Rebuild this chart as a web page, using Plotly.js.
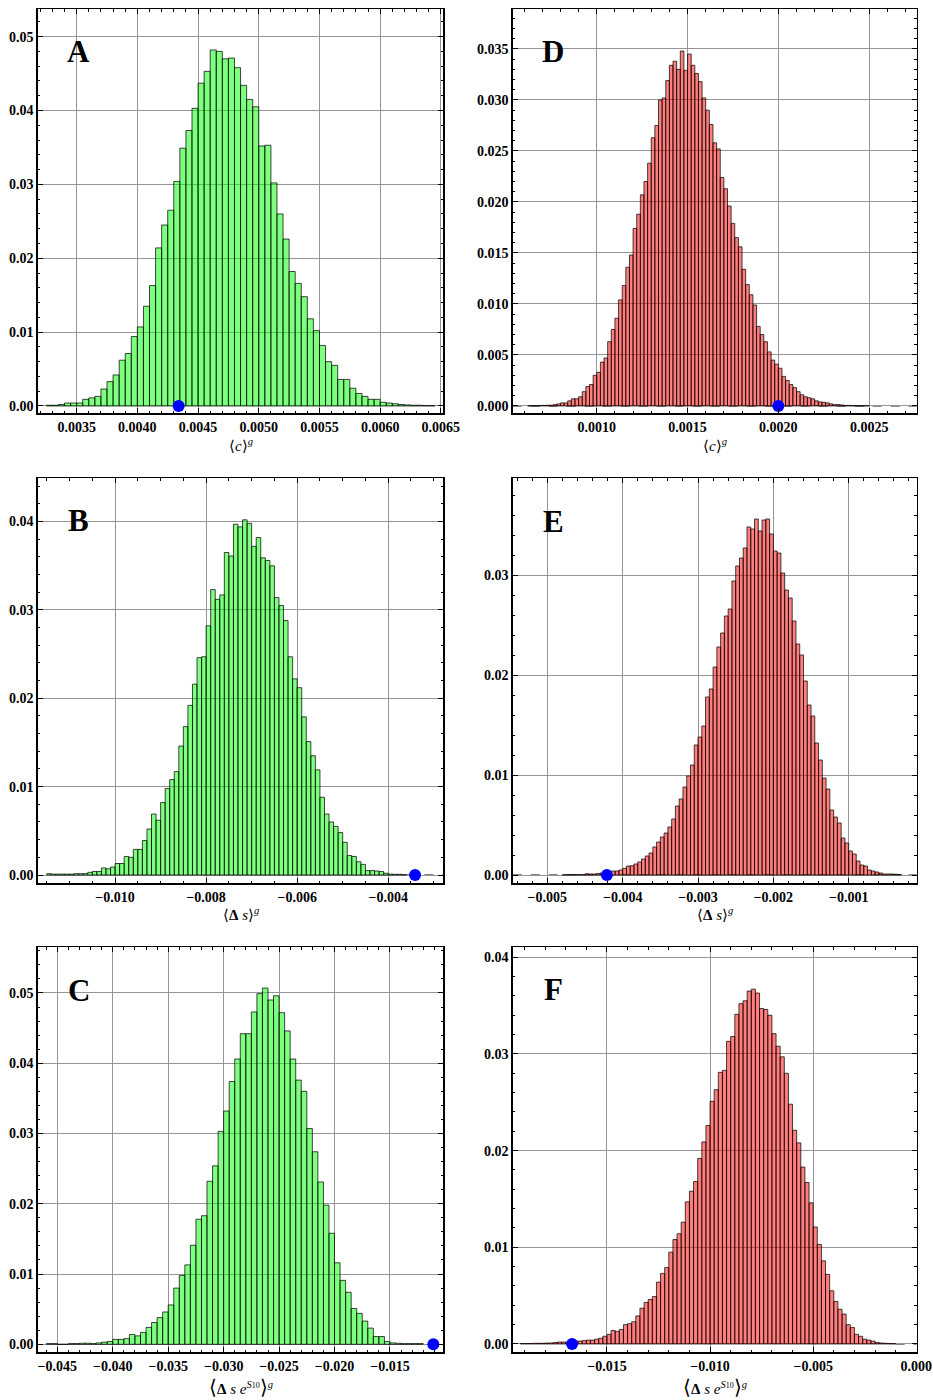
<!DOCTYPE html>
<html>
<head>
<meta charset="utf-8">
<script src="https://cdn.plot.ly/plotly-3.0.1.min.js"></script>
<style>
  html, body { margin: 0; padding: 0; background: #ffffff; }
  #chart { width: 933px; height: 1400px; }
</style>
</head>
<body>
<div id="chart"></div>
<script>
// Panel A: <c>^g, green
const binStartA = 0.00325, binWidthA = 0.00005;
const heightsA = [0.0001,0.0001,0.0002,0.0004,0.0004,0.0004,0.0009,0.0011,0.0013,0.0023,
  0.0033,0.0042,0.0062,0.0071,0.0094,0.0107,0.0135,0.0163,0.0214,0.0245,
  0.0265,0.0304,0.0349,0.0373,0.0403,0.0437,0.0453,0.0482,0.0480,0.0470,
  0.0471,0.0458,0.0434,0.0415,0.0405,0.0352,0.0353,0.0302,0.0260,0.0226,
  0.0182,0.0166,0.0148,0.0118,0.0102,0.0082,0.0060,0.0055,0.0036,0.0036,
  0.0024,0.0017,0.0013,0.0009,0.0009,0.0005,0.0004,0.0003,0.0002,0.00015,
  0.0001,0.0001,0.00005,0.00005];
const markA = 0.00434;

// Panel B: <Δs>^g, green
const binStartB = -0.0115, binWidthB = 0.0001;
const heightsB = [0.00015,0.0001,0.0001,0.0001,0.0001,0.0001,0.00015,0.00015,0.00015,0.0003,
  0.0004,0.0004,0.0008,0.0007,0.0009,0.0013,0.0013,0.0021,0.0020,0.0029,
  0.0029,0.0039,0.0052,0.0069,0.0062,0.0082,0.0098,0.0108,0.0117,0.0146,
  0.0168,0.0192,0.0216,0.0246,0.0247,0.0282,0.0323,0.0312,0.0317,0.0365,
  0.0361,0.0397,0.0394,0.0402,0.0398,0.0372,0.0382,0.0359,0.0356,0.0350,
  0.0314,0.0305,0.0288,0.0247,0.0222,0.0212,0.0179,0.0151,0.0135,0.0119,
  0.0088,0.0069,0.0060,0.0055,0.0048,0.0037,0.0022,0.0021,0.0015,0.0012,
  0.0005,0.0005,0.00045,0.0004,0.0002,0.0001,0.00008,0.00008,0.00005];
const markB = -0.00341;

// Panel C: <Δs e^S10>^g, green
const binStartC = -0.046, binWidthC = 0.0005;
const heightsC = [0.0001,0.0001,0,0,0.0001,0.0001,0.00015,0.00015,0.0001,0.0002,
  0.0003,0.0004,0.0007,0.0007,0.0008,0.0014,0.0012,0.0017,0.0024,0.0031,
  0.0038,0.0046,0.0056,0.0080,0.0098,0.0113,0.0141,0.0178,0.0183,0.0232,
  0.0254,0.0303,0.0332,0.0374,0.0406,0.0442,0.0442,0.0473,0.0499,0.0507,
  0.0490,0.0496,0.0472,0.0446,0.0406,0.0376,0.0360,0.0307,0.0274,0.0231,
  0.0198,0.0158,0.0116,0.0091,0.0074,0.0051,0.0044,0.0033,0.0023,0.0011,
  0.0011,0.0004,0.0002,0.00015,0.0001,0.0001,0.0001,0.0001];
const markC = -0.01109;

// Panel D: <c>^g, red
const binStartD = 0.00062, binWidthD = 0.00002;
const heightsD = [0.00002,0.00003,0.00004,0.00005,0.00005,0.00007,0.00007,0.00013,0.0002,0.0003,
  0.0003,0.0005,0.0007,0.0007,0.0009,0.0014,0.0019,0.0021,0.0030,0.0033,
  0.0043,0.0047,0.0063,0.0075,0.0086,0.0104,0.0118,0.0136,0.0148,0.0174,
  0.0188,0.0207,0.0220,0.0238,0.0263,0.0275,0.0300,0.0302,0.0319,0.0334,
  0.0338,0.0330,0.0348,0.0329,0.0345,0.0334,0.0326,0.0318,0.0302,0.0290,
  0.0276,0.0258,0.0252,0.0224,0.0213,0.0196,0.0179,0.0165,0.0156,0.0134,
  0.0119,0.0109,0.0099,0.0078,0.0070,0.0063,0.0053,0.0045,0.0041,0.0037,
  0.0029,0.0025,0.0021,0.0018,0.0014,0.0011,0.0009,0.0008,0.0007,0.0005,
  0.0004,0.00036,0.0003,0.0002,0.00013,0.00013,0.0001,0.00005,0.00005,0.00004,
  0.00004,0.00003,0.00002,0.00002];
const markD = 0.00200;

// Panel E: <Δs>^g, red
const binStartE = -0.0048, binWidthE = 0.00005;
const heightsE = [0.00003,0.00003,0.00003,0.00003,0.00005,0.00005,0.00012,0.0001,0.0001,0.00015,
  0.0002,0.0002,0.0003,0.0004,0.0004,0.0005,0.00067,0.0009,0.00093,0.0011,
  0.0013,0.0016,0.0019,0.0022,0.0028,0.0033,0.0038,0.0042,0.0048,0.0056,
  0.0069,0.0076,0.0088,0.0099,0.0110,0.0130,0.0138,0.0149,0.0178,0.0186,
  0.0208,0.0228,0.0242,0.0259,0.0266,0.0294,0.0309,0.0317,0.0327,0.0348,
  0.0346,0.0356,0.0344,0.0355,0.0356,0.0341,0.0324,0.0322,0.0302,0.0285,
  0.0277,0.0254,0.0231,0.0220,0.0194,0.0170,0.0159,0.0132,0.0115,0.0097,
  0.0086,0.0065,0.0058,0.0052,0.0037,0.0032,0.0024,0.0021,0.0014,0.0010,
  0.0009,0.0005,0.0004,0.0003,0.0002,0.0001,0.0001,0.0001,0.00007,0.00005];
const markE = -0.00421;

// Panel F: <Δs e^S10>^g, red
const binStartF = -0.0192, binWidthF = 0.0002;
const heightsF = [0.00005,0.00005,0.00005,0.00007,0.00007,0.00007,0.0001,0.0001,0.00015,0.0002,
  0.0002,0.0002,0.00025,0.0003,0.0003,0.00035,0.0004,0.0004,0.0005,0.0006,
  0.0008,0.0010,0.0014,0.0013,0.0015,0.0020,0.0021,0.0023,0.0029,0.0037,
  0.0043,0.0046,0.0049,0.0064,0.0073,0.0079,0.0095,0.0108,0.0114,0.0126,
  0.0147,0.0158,0.0168,0.0192,0.0209,0.0226,0.0251,0.0263,0.0281,0.0283,
  0.0313,0.0318,0.0341,0.0352,0.0355,0.0365,0.0367,0.0363,0.0347,0.0346,
  0.0340,0.0321,0.0308,0.0297,0.0280,0.0248,0.0221,0.0208,0.0183,0.0167,
  0.0146,0.0121,0.0103,0.0086,0.0072,0.0055,0.0044,0.0036,0.0031,0.0020,
  0.0017,0.0010,0.0008,0.0005,0.0004,0.0003,0.00015,0.0001,0.00007,0.00005,
  0.00004];
const markF = -0.01669;

// Tick labels of the vertical axes
const yTicksA = [0, 0.01, 0.02, 0.03, 0.04, 0.05];
const yTicksB = [0, 0.01, 0.02, 0.03, 0.04];
const yTicksC = [0, 0.01, 0.02, 0.03, 0.04, 0.05];
const yTicksD = [0, 0.005, 0.010, 0.015, 0.020, 0.025, 0.030, 0.035];
const yTicksE = [0, 0.01, 0.02, 0.03];
const yTicksF = [0, 0.01, 0.02, 0.03, 0.04];
// Tick labels of the horizontal axes
const xTicksA = [0.0035, 0.0040, 0.0045, 0.0050, 0.0055, 0.0060, 0.0065];
const xTicksB = [-0.010, -0.008, -0.006, -0.004];
const xTicksC = [-0.045, -0.040, -0.035, -0.030, -0.025, -0.020, -0.015];
const xTicksD = [0.0010, 0.0015, 0.0020, 0.0025];
const xTicksE = [-0.005, -0.004, -0.003, -0.002, -0.001];
const xTicksF = [-0.015, -0.010, -0.005, 0.000];

const W = 933, H = 1400;
const GREEN = 'rgba(0,255,0,0.5)';
const RED = 'rgba(255,0,0,0.5)';
const EDGE = 'rgba(0,0,0,0.72)';
const serif = '"Liberation Serif", "Times New Roman", serif';
const tickFont = { family: serif, size: 14, color: '#000', weight: 700 };

function centers(start, width, n) {
  const out = [];
  for (let i = 0; i < n; i++) out.push(start + width * (i + 0.5));
  return out;
}

function px2x(p) { return p / W; }
function px2y(p) { return 1 - p / H; }

function axisCommon(range, ticks, fmt, minorD, anchor) {
  return {
    anchor: anchor, range: range,
    tickmode: 'array', tickvals: ticks, tickformat: fmt,
    ticks: 'inside', ticklen: 5, tickwidth: 1, tickcolor: '#000',
    mirror: 'allticks', showline: true, linecolor: '#000', linewidth: 1.4,
    showgrid: true, gridcolor: '#959595', gridwidth: 1, zeroline: false,
    minor: { dtick: minorD, tick0: 0, ticks: 'inside', ticklen: 2.5, tickcolor: '#000', tickwidth: 1, showgrid: false },
    tickfont: tickFont,
    fixedrange: true
  };
}

function xAxis(range, ticks, fmt, minorD, left, right, anchor) {
  return Object.assign(axisCommon(range, ticks, fmt, minorD, anchor),
    { domain: [px2x(left), px2x(right)] });
}

function yAxis(range, ticks, fmt, minorD, top, bottom, anchor) {
  return Object.assign(axisCommon(range, ticks, fmt, minorD, anchor),
    { domain: [px2y(bottom), px2y(top)] });
}

function histTrace(start, width, heights, color, xa, ya) {
  return {
    type: 'bar', x: centers(start, width, heights.length), y: heights, width: width,
    marker: { color: color, line: { color: EDGE, width: 1 } },
    xaxis: xa, yaxis: ya, hoverinfo: 'skip'
  };
}

function markTrace(x, xa, ya) {
  return {
    type: 'scatter', mode: 'markers', x: [x], y: [0],
    marker: { size: 12, color: '#0000ff' },
    xaxis: xa, yaxis: ya, cliponaxis: false, hoverinfo: 'skip'
  };
}

const rangeXA = [0.003179, 0.00652], rangeYA = [-0.00099, 0.0537];
const rangeXD = [0.000537, 0.002762], rangeYD = [-0.00072, 0.03889];
const rangeXB = [-0.0117, -0.00279], rangeYB = [-0.00094, 0.0449];
const rangeXE = [-0.00546, -0.0000973], rangeYE = [-0.00083, 0.03967];
const rangeXC = [-0.04677, -0.01019], rangeYC = [-0.00114, 0.0565];
const rangeXF = [-0.01957, 0.00002], rangeYF = [-0.00086, 0.04103];

const data = [
  histTrace(binStartA, binWidthA, heightsA, GREEN, 'x', 'y'),
  histTrace(binStartD, binWidthD, heightsD, RED, 'x2', 'y2'),
  histTrace(binStartB, binWidthB, heightsB, GREEN, 'x3', 'y3'),
  histTrace(binStartE, binWidthE, heightsE, RED, 'x4', 'y4'),
  histTrace(binStartC, binWidthC, heightsC, GREEN, 'x5', 'y5'),
  histTrace(binStartF, binWidthF, heightsF, RED, 'x6', 'y6'),
  markTrace(markA, 'x', 'y'),
  markTrace(markD, 'x2', 'y2'),
  markTrace(markB, 'x3', 'y3'),
  markTrace(markE, 'x4', 'y4'),
  markTrace(markC, 'x5', 'y5'),
  markTrace(markF, 'x6', 'y6')
];

// dashed zero baselines
function baseline(xa, ya, x0, x1) {
  return { type: 'line', xref: xa, yref: ya, x0: x0, x1: x1, y0: 0, y1: 0,
    line: { color: '#000', width: 1, dash: 'dash' }, layer: 'below' };
}
const endB = binStartB + binWidthB * heightsB.length;
const endF = binStartF + binWidthF * heightsF.length;

function label(text, px, py, size) {
  return {
    text: text, xref: 'paper', yref: 'paper', x: px2x(px), y: px2y(py),
    xanchor: 'center', yanchor: 'middle', showarrow: false,
    font: { family: serif, size: size, color: '#000' }
  };
}

const titleC = '\u27E8<i>c</i>\u27E9<sup><i>g</i></sup>';
const titleS = '\u27E8<b>\u0394</b> <i>s</i>\u27E9<sup><i>g</i></sup>';
const titleSe = '<span style="font-size:20px">\u27E8</span><b>\u0394</b> <i>s e</i><sup><i>S</i><span style="font-size:8px">10</span></sup><span style="font-size:20px">\u27E9</span><sup><i>g</i></sup>';

const layout = {
  width: W, height: H,
  margin: { l: 0, r: 0, t: 0, b: 0 },
  paper_bgcolor: '#ffffff', plot_bgcolor: '#ffffff',
  showlegend: false, bargap: 0, barmode: 'overlay',
  xaxis: xAxis(rangeXA, xTicksA, '.4f', 0.0001, 37.7, 443.3, 'y'),
  yaxis: yAxis(rangeYA, yTicksA, '.2f', 0.002, 9.3, 413.3, 'x'),
  xaxis2: xAxis(rangeXD, xTicksD, '.4f', 0.0001, 512.7, 916.7, 'y2'),
  yaxis2: yAxis(rangeYD, yTicksD, '.3f', 0.001, 9.3, 413.3, 'x2'),
  xaxis3: xAxis(rangeXB, xTicksB, '.3f', 0.0005, 37.7, 443.3, 'y3'),
  yaxis3: yAxis(rangeYB, yTicksB, '.2f', 0.002, 478.3, 883.3, 'x3'),
  xaxis4: xAxis(rangeXE, xTicksE, '.3f', 0.0002, 512.7, 916.7, 'y4'),
  yaxis4: yAxis(rangeYE, yTicksE, '.2f', 0.002, 478.3, 883.3, 'x4'),
  xaxis5: xAxis(rangeXC, xTicksC, '.3f', 0.001, 37.7, 443.3, 'y5'),
  yaxis5: yAxis(rangeYC, yTicksC, '.2f', 0.002, 947.3, 1352.3, 'x5'),
  xaxis6: xAxis(rangeXF, xTicksF, '.3f', 0.001, 512.7, 916.7, 'y6'),
  yaxis6: yAxis(rangeYF, yTicksF, '.2f', 0.002, 947.3, 1352.3, 'x6'),
  shapes: [
    baseline('x2', 'y2', rangeXD[0], rangeXD[1]),
    baseline('x3', 'y3', endB, rangeXB[1]),
    baseline('x4', 'y4', rangeXE[0], rangeXE[1]),
    baseline('x6', 'y6', endF, rangeXF[1])
  ],
  annotations: [
    label('<b>A</b>', 78.5, 51, 31),
    label('<b>D</b>', 552.5, 51, 31),
    label('<b>B</b>', 78.5, 520, 31),
    label('<b>E</b>', 553, 521, 31),
    label('<b>C</b>', 78.5, 990, 31),
    label('<b>F</b>', 553, 989, 31),
    label(titleC, 240.5, 445, 15),
    label(titleC, 714.7, 445, 15),
    label(titleS, 240.5, 914, 15),
    label(titleS, 714.7, 914, 15),
    label(titleSe, 240.5, 1387, 15),
    label(titleSe, 714.7, 1387, 15)
  ]
};

Plotly.newPlot('chart', data, layout, { staticPlot: true, displayModeBar: false });
</script>
</body>
</html>
